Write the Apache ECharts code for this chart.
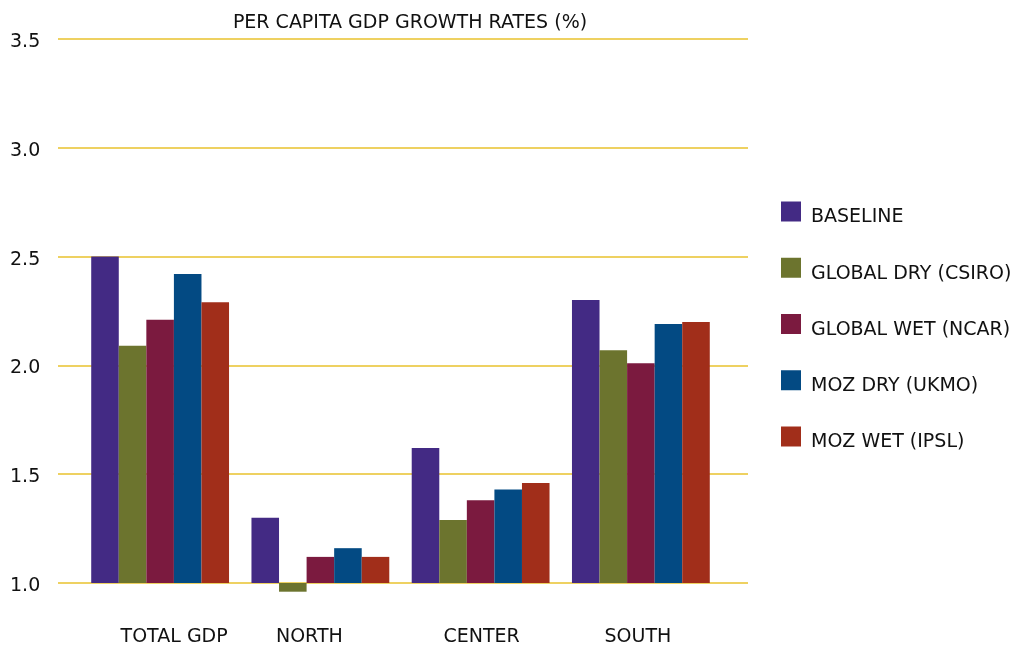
<!DOCTYPE html>
<html>
<head>
<meta charset="utf-8">
<title>Per capita GDP growth rates</title>
<script src="https://cdn.jsdelivr.net/npm/echarts@6/dist/echarts.min.js"></script>
<style>
  html, body { margin: 0; padding: 0; background: #ffffff; }
  #chart { width: 1015px; height: 649px; }
</style>
</head>
<body>
<div id="chart"></div>
<script>
// Regions on the category axis
const categories = ['TOTAL GDP', 'NORTH', 'CENTER', 'SOUTH'];

// Scenario names (legend order)
const scenarios = ['BASELINE', 'GLOBAL DRY (CSIRO)', 'GLOBAL WET (NCAR)', 'MOZ DRY (UKMO)', 'MOZ WET (IPSL)'];

// Per capita GDP growth rates (%) by region
const baseline  = [2.50, 1.30, 1.62, 2.30];
const globalDry = [2.09, 0.96, 1.29, 2.07];
const globalWet = [2.21, 1.12, 1.38, 2.01];
const mozDry    = [2.42, 1.16, 1.43, 2.19];
const mozWet    = [2.29, 1.12, 1.46, 2.20];

// Value axis range and ticks
const yMin = 1.0;
const yMax = 3.5;
const yStep = 0.5;

const seriesValues = [baseline, globalDry, globalWet, mozDry, mozWet];
const colors = ['#432a84', '#6c742e', '#7b1a3f', '#034a83', '#a12e1a'];

const FONT = 'DejaVu Sans';
const TEXT = '#111111';
const FS = 19;

// small horizontal nudges for the region labels under each group
const labelNudge = [14, -11, 1, -3];
const categoryData = categories.map((c, i) => {
  const n = labelNudge[i];
  return {
    value: c,
    textStyle: { padding: n >= 0 ? [0, 0, 0, 2 * n] : [0, -2 * n, 0, 0] }
  };
});

const chart = echarts.init(document.getElementById('chart'), null, { renderer: 'canvas' });

chart.setOption({
  animation: false,
  backgroundColor: '#ffffff',
  title: {
    text: 'PER CAPITA GDP GROWTH RATES (%)',
    left: 405,
    textAlign: 'center',
    top: 9,
    textStyle: { fontFamily: FONT, fontSize: FS, fontWeight: 'normal', color: TEXT }
  },
  legend: {
    orient: 'vertical',
    left: 781,
    top: 196,
    padding: 0,
    itemWidth: 20,
    itemHeight: 20,
    itemGap: 25.25,
    icon: 'rect',
    data: scenarios,
    // names sit slightly below the centre of their swatches
    formatter: name => '{t|' + name + '}',
    textStyle: {
      fontFamily: FONT, fontSize: FS, color: TEXT,
      rich: { t: { fontFamily: FONT, fontSize: FS, color: TEXT, lineHeight: 20, padding: [12, 0, 0, 5] } }
    }
  },
  grid: [
    // grid carrying the value labels and the horizontal rules
    { left: 58, right: 267, top: 39, bottom: 66 },
    // grid carrying the bars
    { left: 80, right: 294, top: 39, bottom: 66 }
  ],
  xAxis: [
    { gridIndex: 0, type: 'category', data: categories, show: false },
    {
      gridIndex: 1,
      type: 'category',
      data: categoryData,
      axisLine: { show: false },
      axisTick: { show: false },
      axisLabel: { margin: 45, fontFamily: FONT, fontSize: FS, color: TEXT }
    }
  ],
  yAxis: [
    {
      gridIndex: 0,
      type: 'value',
      min: yMin,
      max: yMax,
      interval: yStep,
      axisLine: { show: false },
      axisTick: { show: false },
      splitLine: { lineStyle: { color: '#e9c22c', width: 1.5 } },
      axisLabel: {
        align: 'left',
        margin: 48,
        fontFamily: FONT,
        fontSize: FS,
        color: TEXT,
        formatter: v => '{v|' + v.toFixed(1) + '}',
        rich: { v: { fontFamily: FONT, fontSize: FS, color: TEXT, lineHeight: 20, padding: [6, 0, 0, 0] } }
      }
    },
    {
      gridIndex: 1,
      type: 'value',
      min: yMin,
      max: yMax,
      interval: yStep,
      startValue: yMin,
      show: false,
      splitLine: { show: false }
    }
  ],
  series: scenarios.map((name, i) => ({
    name: name,
    type: 'bar',
    xAxisIndex: 1,
    yAxisIndex: 1,
    data: seriesValues[i],
    barGap: '0%',
    barCategoryGap: '14%',
    clip: false,
    itemStyle: { color: colors[i] }
  }))
});
</script>
</body>
</html>
